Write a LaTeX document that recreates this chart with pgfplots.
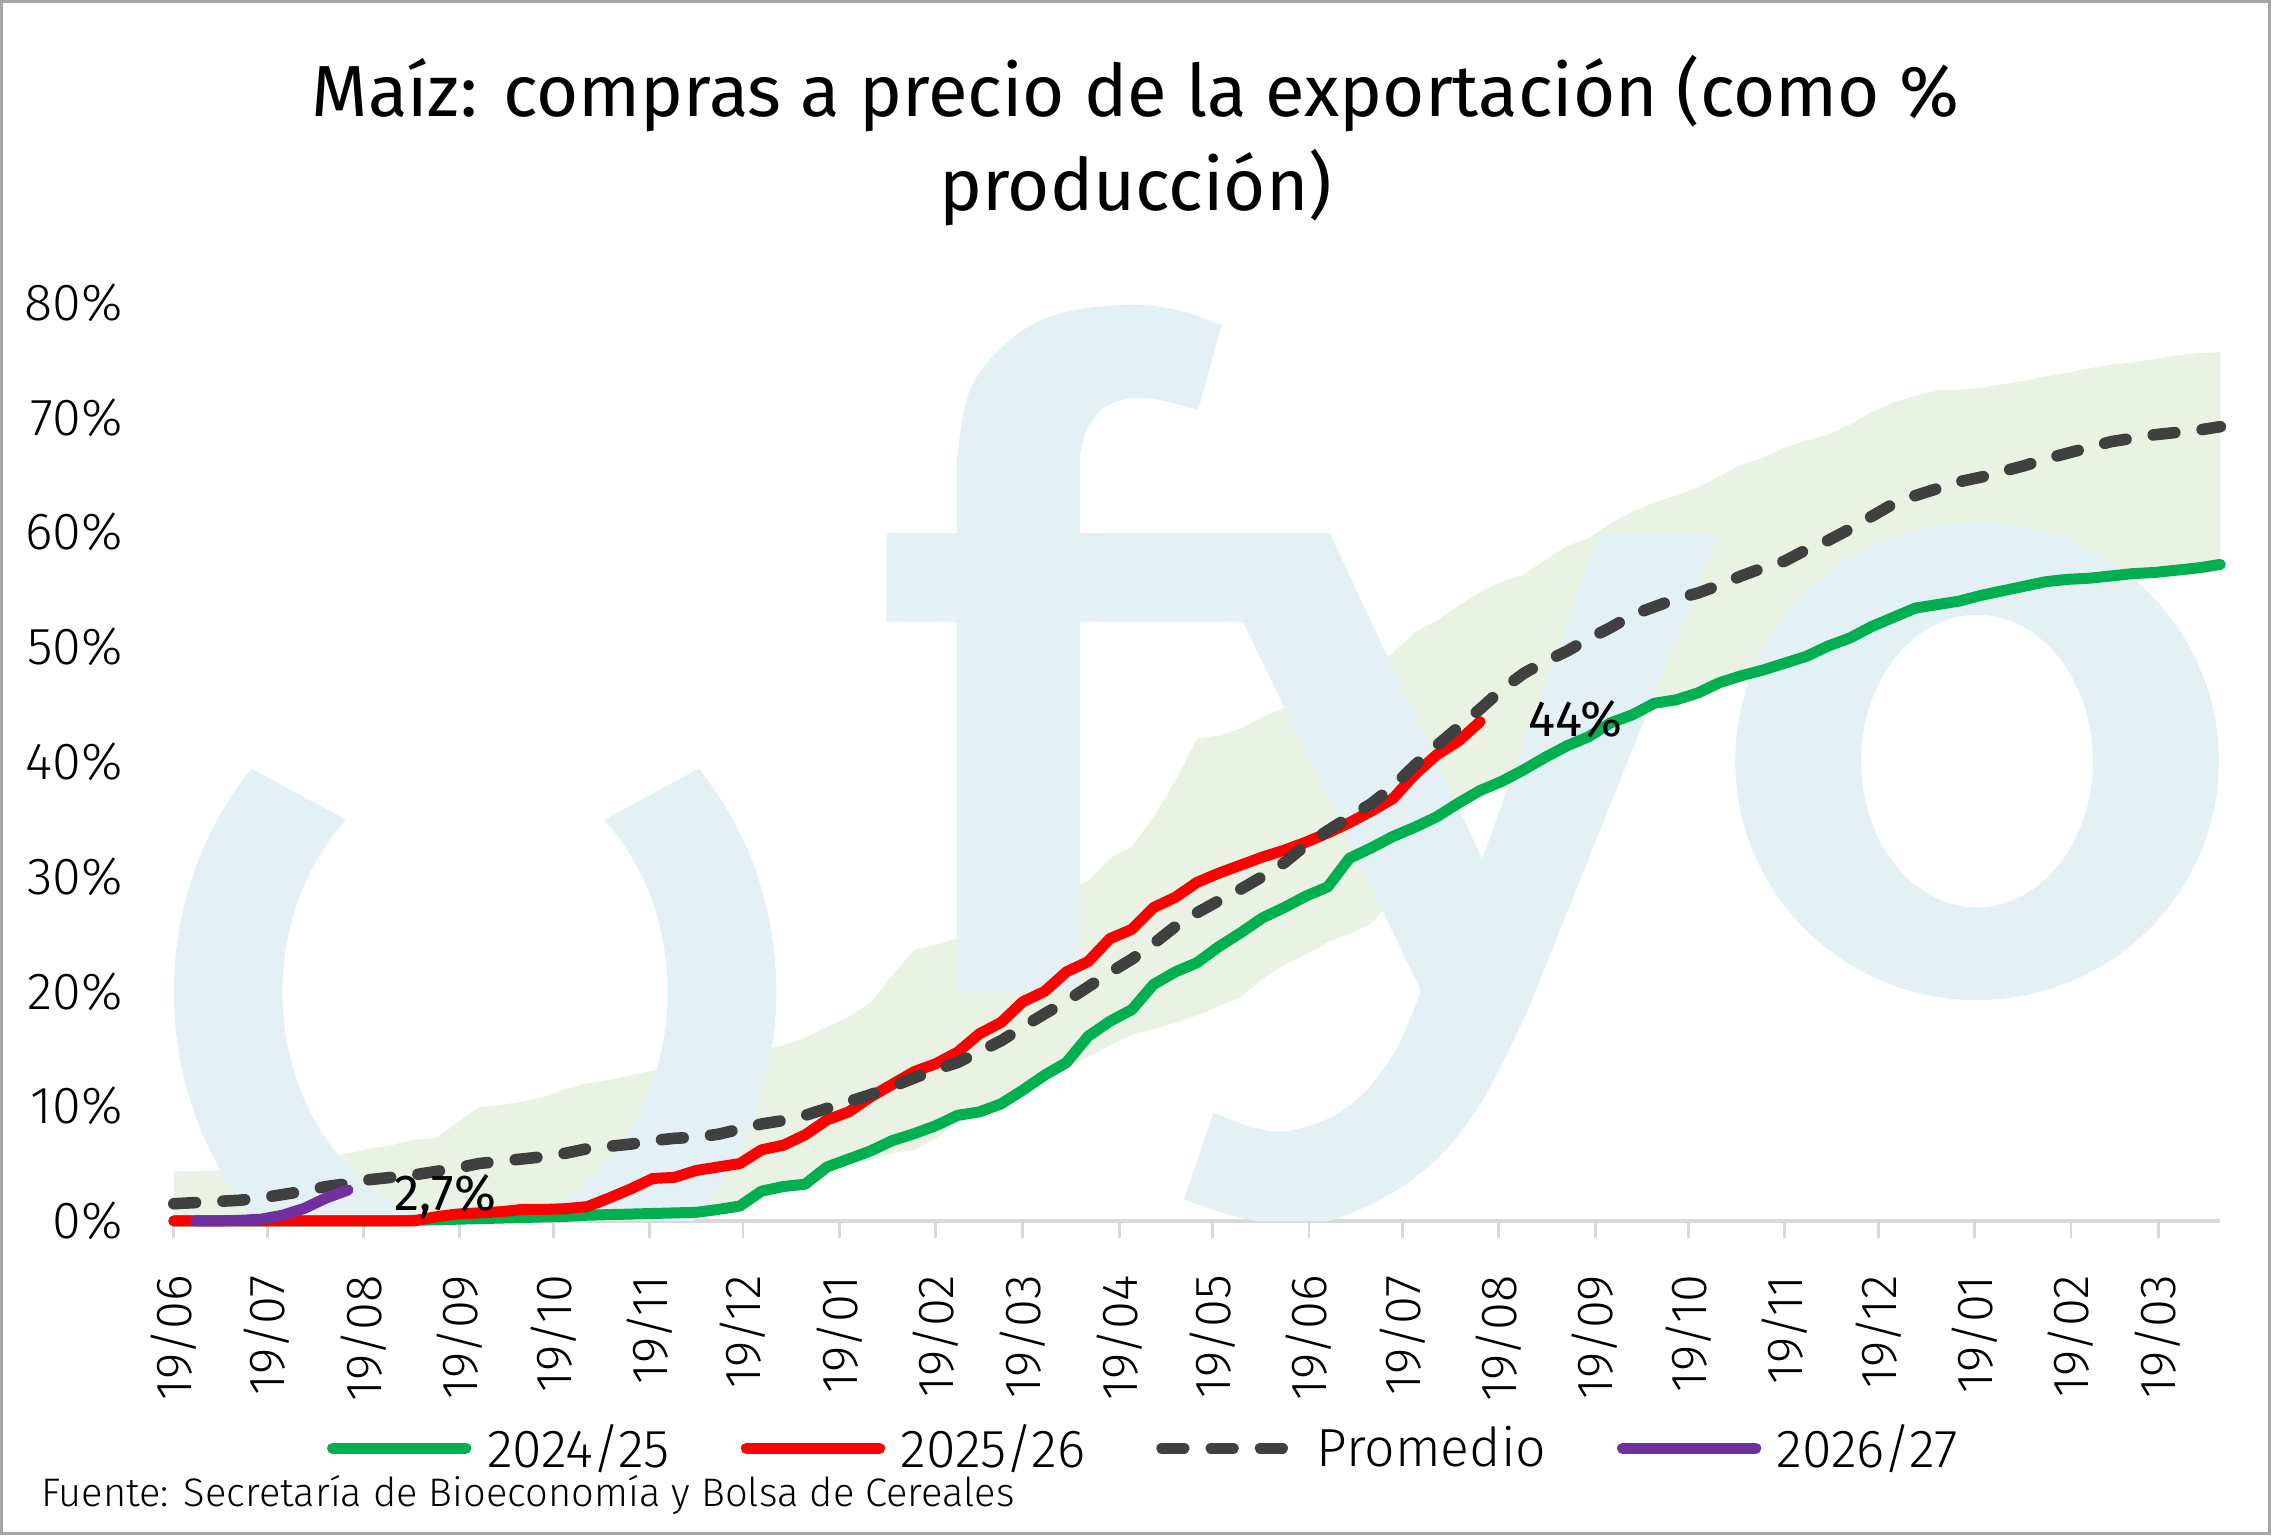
\documentclass[border=0pt]{standalone}
\usepackage{fontspec}
\usepackage{pgfplots}
\pgfplotsset{compat=1.18}
\usepackage{pgfplotstable}
\usepgfplotslibrary{fillbetween}
\IfFontExistsTF{Fira Sans Light}{\setmainfont{Fira Sans Light}}{\setmainfont{Fira Sans}}
\newfontfamily\regfont{Fira Sans}
\newfontfamily\titlefont{Fira Sans}

\definecolor{cgreen}{RGB}{0,176,80}
\definecolor{cred}{RGB}{255,0,0}
\definecolor{cdark}{RGB}{64,64,64}
\definecolor{cpurple}{RGB}{112,48,160}
\definecolor{cband}{RGB}{214,232,200}
\definecolor{cwm}{RGB}{227,241,245}
\definecolor{axgray}{RGB}{217,217,217}
\definecolor{cborder}{RGB}{166,166,166}

% k = week index (0 = 19/06), up/lo = band, g = 2024/25, avg = Promedio
\pgfplotstableread{
k up lo g avg
0 4.3 0 0 1.5
1 4.35 0 0 1.6
2 4.4 0 0 1.7
3 4.5 0 0 1.8
4 4.7 0 0 2.0
5 5.3 0 0 2.3
6 5.4 0 0 2.6
7 5.5 0 0 3.0
8 5.9 0 0 3.25
9 6.3 0 0 3.6
10 6.6 0 0 3.8
11 7.1 0.05 0.05 4.0
12 7.2 0.1 0.1 4.3
13 8.5 0.15 0.15 4.6
14 9.9 0.2 0.2 5.0
15 10.1 0.25 0.25 5.2
16 10.4 0.3 0.3 5.4
17 10.8 0.35 0.35 5.6
18 11.5 0.4 0.4 5.9
19 12.0 0.5 0.5 6.3
20 12.3 0.55 0.55 6.5
21 12.7 0.6 0.6 6.7
22 13.1 0.65 0.65 7.0
23 13.2 0.7 0.7 7.2
24 13.3 0.75 0.75 7.3
25 13.8 1.0 1.0 7.55
26 14.5 1.3 1.3 8.0
27 14.9 2.4 2.6 8.45
28 15.3 2.9 3.0 8.75
29 16.0 3.1 3.2 9.2
30 16.9 4.5 4.7 9.8
31 17.8 5.0 5.4 10.4
32 19.0 5.3 6.1 11.0
33 21.4 5.9 7.0 11.7
34 23.6 6.2 7.6 12.45
35 24.1 7.2 8.3 13.2
36 24.6 8.6 9.2 13.8
37 25.1 9.3 9.5 14.75
38 25.9 10.0 10.2 15.7
39 26.8 11.0 11.4 16.9
40 27.7 12.2 12.7 18.05
41 28.6 13.2 13.8 19.15
42 29.6 14.3 16.1 20.4
43 31.6 15.3 17.4 21.65
44 32.6 16.2 18.4 22.8
45 35.2 16.7 20.6 24.15
46 38.3 17.3 21.7 25.65
47 42.0 17.9 22.5 26.85
48 42.3 18.7 23.9 27.9
49 42.9 19.5 25.1 28.9
50 43.9 21.1 26.4 30.0
51 44.7 22.3 27.3 31.2
52 45.6 23.2 28.3 32.75
53 46.1 24.3 29.1 34.0
54 47.4 25.0 31.6 35.2
55 48.0 25.9 32.5 36.35
56 49.5 28.0 33.5 37.85
57 51.3 32.6 34.3 39.7
58 52.3 34.6 35.2 41.4
59 53.6 36.4 36.4 43.0
60 54.8 37.5 37.5 44.6
61 55.7 38.3 38.3 46.3
62 56.3 39.3 39.3 47.7
63 57.6 40.4 40.4 48.75
64 58.8 41.4 41.4 49.65
65 59.5 42.2 42.2 50.75
66 60.8 43.4 43.4 51.7
67 61.8 44.1 44.1 52.8
68 62.6 45.1 45.1 53.5
69 63.2 45.4 45.4 54.2
70 63.9 46.0 46.0 54.7
71 64.9 46.9 46.9 55.4
72 65.9 47.5 47.5 56.2
73 66.5 48.0 48.0 56.9
74 67.4 48.6 48.6 57.5
75 68.0 49.2 49.2 58.5
76 68.5 50.1 50.1 59.3
77 69.4 50.8 50.8 60.3
78 70.5 51.8 51.8 61.4
79 71.3 52.6 52.6 62.5
80 71.9 53.4 53.4 63.2
81 72.4 53.7 53.7 63.8
82 72.4 54.0 54.0 64.4
83 72.6 54.5 54.5 64.8
84 72.9 54.9 54.9 65.3
85 73.2 55.3 55.3 65.8
86 73.6 55.7 55.7 66.4
87 73.9 55.9 55.9 66.9
88 74.3 56.0 56.0 67.4
89 74.6 56.2 56.2 67.9
90 74.8 56.4 56.4 68.2
91 75.1 56.5 56.5 68.5
92 75.4 56.7 56.7 68.7
93 75.6 56.9 56.9 68.9
94 75.7 57.2 57.2 69.2
}\maintab

\pgfplotstableread{
k v
0 0
1 0
2 0
3 0
4 0
5 0
6 0
7 0
8 0
9 0
10 0
11 0
12 0.35
13 0.6
14 0.7
15 0.8
16 1.0
17 1.0
18 1.07
19 1.25
20 2.0
21 2.8
22 3.7
23 3.8
24 4.4
25 4.7
26 5.0
27 6.2
28 6.6
29 7.5
30 8.8
31 9.5
32 10.8
33 11.9
34 13.0
35 13.7
36 14.7
37 16.3
38 17.3
39 19.1
40 20.0
41 21.7
42 22.6
43 24.6
44 25.4
45 27.3
46 28.2
47 29.5
48 30.3
49 31.0
50 31.7
51 32.3
52 33.0
53 33.8
54 34.7
55 35.7
56 36.8
57 38.9
58 40.6
59 41.8
60 43.5
}\redtab

\pgfplotstableread{
k v
1 0
2 0
3 0.05
4 0.15
5 0.5
6 1.1
7 2.0
8 2.7
}\purtab

\begin{document}
\begin{tikzpicture}
% watermark (logo) behind the plot
\begin{scope}[x=0.5pt,y=0.5pt]
\begin{scope}
\clip (120,217) rectangle (1545,1060);
\fill[cwm] (173.7,529.2) arc[start angle=137.9, end angle=402.1, x radius=208, y radius=230]
  -- (417.0,493.9) arc[start angle=48, end angle=-228, x radius=133, y radius=160] -- cycle;
\fill[cwm] (660.5,375) -- (660.5,740)
  --plot[smooth, tension=0.6] coordinates {(660.5,740) (669.7,790.7) (697.3,825.3) (731.8,843.7) (777.8,849.4) (812.3,846) (843.4,835.6)}
  -- (827.3,776.9)
  --plot[smooth, tension=0.7] coordinates {(827.3,776.9) (792,785) (767,781) (753,768) (746.5,750) (745.6,735)}
  -- (745.6,375) -- cycle;
\fill[cwm] (612,692) -- (918,692) -- (1023.5,467) -- (1104,692) -- (1187,692) -- (1056,365)
  --plot[smooth, tension=0.6] coordinates {(1056,365) (1019.3,293.4) (978.4,248) (923.8,219) (882.9,215) (850,221) (817.4,231.8)}
  -- (837.9,291.8)
  --plot[smooth, tension=0.6] coordinates {(837.9,291.8) (869.2,280.5) (896.6,280.5) (932.1,296.7) (962,332.3) (981.1,376.1)}
  -- (858.3,630.6) -- (612,630.6) -- cycle;
\fill[cwm, even odd rule] (1365,534.5) ellipse[x radius=167, y radius=165]
  (1365,534.5) ellipse[x radius=80, y radius=101];
\end{scope}
\end{scope}

\begin{axis}[
  scale only axis, width=706.5pt, height=317pt,
  at={(60pt,108.5pt)}, anchor=south west,
  xmin=0, xmax=94, ymin=0, ymax=80, clip=false,
  axis x line=bottom, axis y line=left,
  y axis line style={draw=none},
  x axis line style={-, draw=axgray, line width=1.3pt},
  ytick style={draw=none},
  xtick style={draw=axgray, line width=1pt},
  tick align=outside, major tick length=6pt,
  xtick={0,4.2857,8.7143,13.1429,17.4286,21.8571,26.1429,30.5714,35,39,43.4286,47.7143,52.1429,56.4286,60.8571,65.2857,69.5714,74,78.2857,82.7143,87.1429,91.1429},
  xticklabels={19/06,19/07,19/08,19/09,19/10,19/11,19/12,19/01,19/02,19/03,19/04,19/05,19/06,19/07,19/08,19/09,19/10,19/11,19/12,19/01,19/02,19/03},
  ytick={0,10,20,30,40,50,60,70,80},
  yticklabels={0\%,10\%,20\%,30\%,40\%,50\%,60\%,70\%,80\%},
  xticklabel style={rotate=90, anchor=east, inner sep=0pt, font=\fontsize{17.5}{20}\selectfont},
  yticklabel style={anchor=east, inner sep=0pt, xshift=-11.5pt, font=\fontsize{18}{20}\selectfont},
  xticklabel shift=12.5pt,
  legend style={draw=none, fill=none, at={(0.4752,-0.2476)}, anchor=center,
    legend columns=4, font=\fontsize{18.5}{21}\selectfont,
    nodes={inner sep=2.5pt},
    /tikz/every even column/.append style={column sep=22pt}},
  legend image code/.code={\draw[#1, line cap=round] (0pt,0pt) -- (46pt,0pt); \path (48.9pt,0pt);},
]
\addplot[draw=none, name path=up, forget plot] table[x=k, y=up] {\maintab};
\addplot[draw=none, name path=lo, forget plot] table[x=k, y=lo] {\maintab};
\addplot[fill=cband, fill opacity=0.5, draw=none, forget plot] fill between[of=up and lo];
\addplot[cgreen, line width=3.8pt, line join=round, line cap=round] table[x=k, y=g] {\maintab};
\addlegendentry{2024/25}
\addplot[cred, line width=3.8pt, line join=round, line cap=round] table[x=k, y=v] {\redtab};
\addlegendentry{2025/26}
\addplot[cdark, line width=4pt, line join=round, line cap=round, dash pattern=on 7.5pt off 9.5pt] table[x=k, y=avg] {\maintab};
\addlegendentry{Promedio}
\addplot[cpurple, line width=3.8pt, line join=round, line cap=round] table[x=k, y=v] {\purtab};
\addlegendentry{2026/27}
\node[anchor=west, inner sep=0pt, font=\regfont\fontsize{17.5}{20}\selectfont] at (axis cs:10.1,2.15) {2,7\%};
\node[anchor=west, inner sep=0pt, font=\regfont\fontsize{17.5}{20}\selectfont] at (axis cs:62.2,43.7) {44\%};
\end{axis}

\node[anchor=base, inner sep=0pt, font=\titlefont\fontsize{25}{30}\selectfont] at (392pt,489.7pt) {Maíz: compras a precio de la exportación (como \%};
\node[anchor=base, inner sep=0pt, font=\titlefont\fontsize{25}{30}\selectfont] at (392pt,457.2pt) {producción)};
\node[anchor=base west, inner sep=0pt, font=\fontsize{13.75}{16}\selectfont] at (14pt,9.8pt) {Fuente: Secretaría de Bioeconomía y Bolsa de Cereales};
\draw[cborder, line width=1pt] (0.5pt,0.5pt) rectangle (783.5pt,529.5pt);
\end{tikzpicture}
\end{document}
